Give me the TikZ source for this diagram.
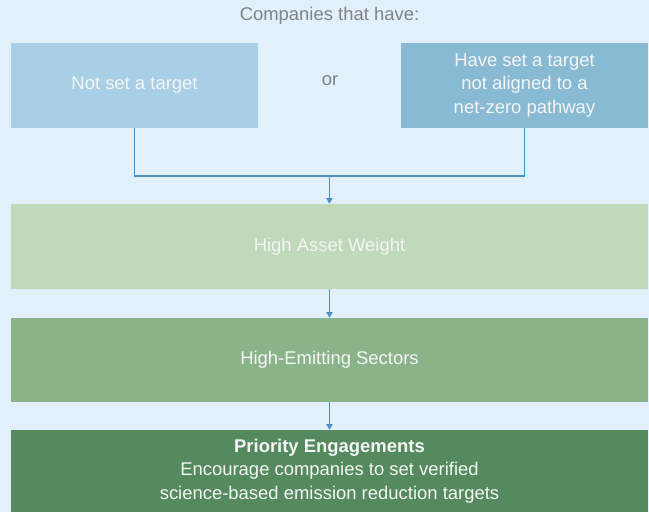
\documentclass[tikz,border=0pt]{standalone}
\usepackage{fontspec}
\setmainfont{Liberation Sans}
\usetikzlibrary{arrows.meta}

\definecolor{pagebg}{HTML}{E2F0FB}
\definecolor{noneblue}{HTML}{A8CFE5}
\definecolor{misblue}{HTML}{88BBD3}
\definecolor{assetgreen}{HTML}{BFD9BA}
\definecolor{emitgreen}{HTML}{8BB38A}
\definecolor{priogreen}{HTML}{558A5E}
\definecolor{flowblue}{HTML}{4A8FC4}
\definecolor{labelgrey}{HTML}{7F8385}

\begin{document}
\begin{tikzpicture}[x=0.02cm, y=-0.02cm,
    stage/.style={inner sep=0pt, align=center, text=white!96!black, font=\fontsize{10.5}{13.5}\selectfont},
    conn/.style={draw=flowblue, line width=0.75pt},
    flow/.style={conn, -{Triangle[width=3.6pt,length=3.2pt]}}]
    \fill[pagebg] (0,0) rectangle (649,512);
    \node[labelgrey, font=\fontsize{10.5}{13}\selectfont] (title) at (329.5,16) {Companies that have:};
    \node[stage, fill=noneblue, minimum width=4.94cm, minimum height=1.70cm] (notset) at (134.5,85.5) {Not set a target};
    \node[labelgrey, font=\fontsize{10.5}{13}\selectfont] (or) at (330,81) {or};
    \node[stage, fill=misblue, minimum width=4.94cm, minimum height=1.70cm] (aligned) at (524.5,85.5) {Have set a target\\not aligned to a\\net-zero pathway};
    \node[stage, fill=assetgreen, minimum width=12.74cm, minimum height=1.70cm] (asset) at (329.5,246.5) {High Asset Weight};
    \node[stage, fill=emitgreen, minimum width=12.74cm, minimum height=1.68cm] (emit) at (329.5,360) {High-Emitting Sectors};
    \node[stage, fill=priogreen, minimum width=12.74cm, minimum height=1.64cm] (prio) at (329.5,471) {\textbf{Priority Engagements}\\Encourage companies to set verified\\science-based emission reduction targets};
    \coordinate (join) at (329.5,176);
    % either kind of company feeds the same screen
    \draw[conn] (notset.south) |- (join) -| (aligned.south);
    \draw[flow] (join) -- (asset.north);
    \draw[flow] (asset.south) -- (emit.north);
    \draw[flow] (emit.south) -- (prio.north);
\end{tikzpicture}
\end{document}
